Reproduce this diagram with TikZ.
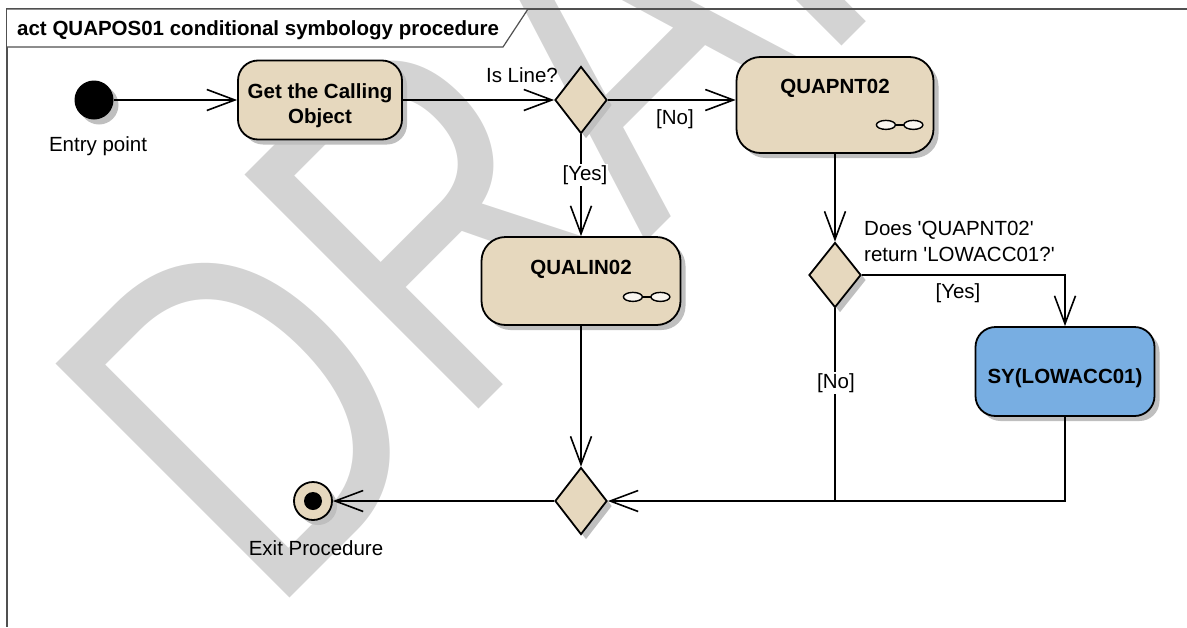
\documentclass[tikz,border=0pt]{standalone}
\usepackage{fontspec}
\setmainfont{Liberation Sans}
\usepackage{tikz}
\usetikzlibrary{arrows.meta,positioning,shapes.geometric,calc,shadows}
\definecolor{actbeige}{HTML}{E6D8BE}
\definecolor{actblue}{HTML}{78AEE2}
\definecolor{wmgray}{HTML}{D3D3D3}
\definecolor{framegray}{HTML}{505050}
\newcommand{\rakeicon}[1]{%
  \draw[line width=1.4pt,fill=actbeige!25] ($(#1.south east)+(-48.5,-29)$) ellipse (9.5pt and 4.5pt)
    ($(#1.south east)+(-21,-29)$) ellipse (9.5pt and 4.5pt);
  \draw[line width=1.4pt] ($(#1.south east)+(-39,-29)$) -- ($(#1.south east)+(-30.5,-29)$);}

\begin{document}
\begin{tikzpicture}[x=1pt,y=-1pt,
  shade/.style={drop shadow={shadow xshift=5pt,shadow yshift=-5pt,fill=black!25,opacity=1}},
  action/.style={draw,line width=1.8pt,rounded corners=20pt,fill=#1,inner sep=0pt,align=center,font=\bfseries\fontsize{20.5}{25}\selectfont,shade},
  action/.default=actbeige,
  decision/.style={diamond,draw,line width=1.8pt,fill=actbeige,minimum width=52pt,minimum height=67pt,inner sep=0pt,shade},
  startdot/.style={circle,fill=black,minimum size=39pt,inner sep=0pt,shade},
  enddot/.style={circle,draw,line width=1.8pt,fill=actbeige,minimum size=38pt,inner sep=0pt,shade,
    path picture={\fill[black] (path picture bounding box.center) circle (9pt);}},
  flow/.style={line width=1.6pt,-{Straight Barb[length=28pt,width=21pt]}},
  guard/.style={inner sep=1pt,font=\fontsize{20.5}{26}\selectfont}
]
\useasboundingbox (0,0) rectangle (1187,627);
% watermark
\node[text=wmgray,font=\fontsize{370}{370}\selectfont,rotate=45,yscale=1.3,anchor=base west,inner sep=0pt] (draftmark) at (268,620) {DRAFT};
% frame
\draw[framegray,line width=1.2pt] (1187,9) -- (7,9) -- (7,627);
\draw[framegray,line width=1.2pt,fill=white] (7,9) -- (528,9) -- (503,47) -- (7,47);
\node[anchor=base west,inner sep=0pt,font=\bfseries\fontsize{20.5}{24}\selectfont] (title) at (17,35) {act QUAPOS01 conditional symbology procedure};

\node[startdot] (entry) at (94,100) {};
\node[action,minimum width=164pt,text height=63pt,text depth=16pt] (getobj) at (320,100) {Get the Calling\\Object};
\node[decision] (isline) at (581,100) {};
\node[action,rounded corners=24pt,minimum width=197pt,text height=36pt,text depth=60pt] (qpnt) at (835,105) {QUAPNT02};
\node[action,rounded corners=24pt,minimum width=199pt,text height=37pt,text depth=51pt] (qlin) at (581,281) {QUALIN02};
\node[decision,minimum height=65pt] (lowacc) at (835,275) {};
\node[action=actblue,minimum width=179pt,text height=56pt,text depth=33pt] (sylow) at (1065,371.5) {SY(LOWACC01)};
\node[decision] (merge) at (581,501) {};
\node[enddot] (exit) at (313,501) {};
\rakeicon{qpnt}
\rakeicon{qlin}

\draw[flow] (entry) -- (getobj); \draw[flow] (getobj) -- (isline);
\draw[flow] (isline.east) -- (isline.east -| qpnt.west); \draw[flow] (isline) -- (qlin);
\draw[flow] (qpnt) -- (lowacc); \draw[flow] (lowacc.east) -| (sylow.north);
\draw[flow] (sylow.south) |- (merge.east); \draw[line width=1.6pt] (lowacc.south) -- (lowacc.south |- merge.east);
\draw[flow] (qlin) -- (merge); \draw[flow] (merge) -- (exit);

\node[guard] (islinelbl) at (522,75) {Is Line?};
\node[guard] (nolbla) at (675,119) {[No]};
\node[guard,fill=white] (yeslbla) at (585,175) {[Yes]};
\node[guard,anchor=west,align=left] (querylbl) at (863,241) {Does {\textquotesingle}QUAPNT02{\textquotesingle}\\return {\textquotesingle}LOWACC01?{\textquotesingle}};
\node[guard] (yeslblb) at (958,293) {[Yes]};
\node[guard,fill=white] (nolblb) at (836,383) {[No]};
\node[guard] (entrylbl) at (98,146) {Entry point};
\node[guard] (exitlbl) at (316,548) {Exit Procedure};
\end{tikzpicture}
\end{document}
